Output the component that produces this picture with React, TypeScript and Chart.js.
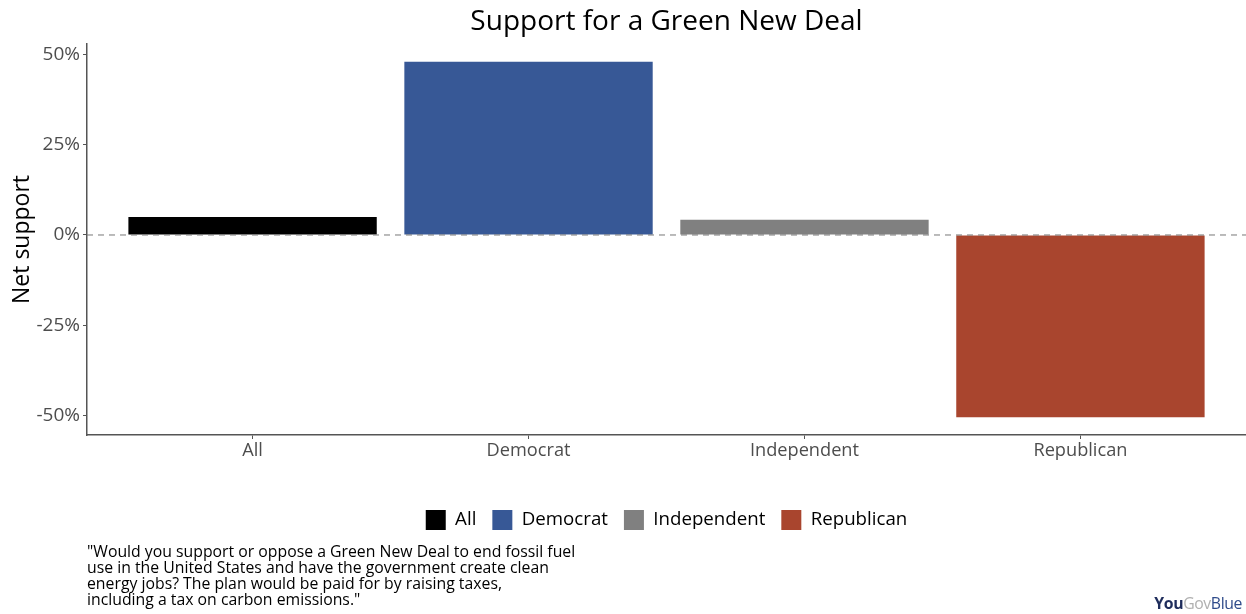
import React, { useEffect, useRef } from "react";
import { Chart, registerables } from "chart.js";

Chart.register(...registerables);

const categories = ["All", "Democrat", "Independent", "Republican"];
const netSupport = [5, 48, 4.2, -50.5];
const barColors = ["#000000", "#375896", "#808080", "#A9452E"];
const yTicks = [-50, -25, 0, 25, 50];
const titleText = "Support for a Green New Deal";
const captionLines = [
  "\"Would you support or oppose a Green New Deal to end fossil fuel",
  "use in the United States and have the government create clean",
  "energy jobs? The plan would be paid for by raising taxes,",
  "including a tax on carbon emissions.\"",
];

const FONT = "'Open Sans', 'Noto Sans', sans-serif";

const zeroLine = {
  id: "zeroLine",
  afterDatasetsDraw(chart: any) {
    const { ctx, chartArea, scales } = chart;
    const y = scales.y.getPixelForValue(0);
    ctx.save();
    ctx.strokeStyle = "#777777";
    ctx.lineWidth = 1;
    ctx.setLineDash([6, 5]);
    ctx.beginPath();
    ctx.moveTo(chartArea.left, y);
    ctx.lineTo(chartArea.right, y);
    ctx.stroke();
    ctx.restore();
  },
};

const centeredTitle = {
  id: "centeredTitle",
  afterDraw(chart: any) {
    const { ctx, chartArea } = chart;
    ctx.save();
    ctx.font = `normal 28px ${FONT}`;
    ctx.fillStyle = "#000000";
    ctx.textAlign = "center";
    ctx.textBaseline = "middle";
    ctx.fillText(titleText, (chartArea.left + chartArea.right) / 2, 22);
    ctx.restore();
  },
};

export default function App() {
  const ref = useRef<HTMLCanvasElement>(null);
  useEffect(() => {
    if (!ref.current) return;
    const chart = new Chart(ref.current, {
      type: "bar",
      data: {
        datasets: [
          {
            label: "Net support",
            data: categories.map((c, i) => ({ x: i, y: netSupport[i] })),
            backgroundColor: barColors,
            borderWidth: 0,
            categoryPercentage: 0.9,
            barPercentage: 1,
          },
        ],
      },
      options: {
        responsive: false,
        animation: false,
        layout: { padding: { left: 0, right: 0, top: 44, bottom: 74 } },
        plugins: {
          tooltip: { enabled: false },
          title: { display: false },
          legend: {
            display: true,
            position: "bottom",
            fullSize: false,
            labels: {
              boxWidth: 20,
              boxHeight: 20,
              padding: 16,
              color: "#1a1a1a",
              font: { family: FONT, size: 18.7 },
              generateLabels: () =>
                categories.map((c, i) => ({
                  text: c,
                  fillStyle: barColors[i],
                  strokeStyle: barColors[i],
                  lineWidth: 0,
                  hidden: false,
                  index: i,
                  datasetIndex: 0,
                })),
            },
          },
        },
        scales: {
          x: {
            type: "linear",
            min: -0.6,
            max: 3.6,
            offset: false,
            afterBuildTicks: (scale: any) => {
              scale.ticks = categories.map((c, i) => ({ value: i }));
            },
            afterFit: (scale: any) => {
              scale.height = 59;
            },
            ticks: {
              autoSkip: false,
              maxRotation: 0,
              padding: 1,
              color: "#4d4d4d",
              font: { family: FONT, size: 18.2 },
              callback: (v: any) => categories[Math.round(Number(v))] ?? "",
            },
            grid: {
              offset: false,
              drawOnChartArea: false,
              drawTicks: true,
              tickLength: 4,
              color: "#555555",
            },
            border: { display: true, color: "#555555", width: 1.5 },
          },
          y: {
            type: "linear",
            min: -55.4,
            max: 52.9,
            afterBuildTicks: (scale: any) => {
              scale.ticks = yTicks.map((v) => ({ value: v }));
            },
            afterFit: (scale: any) => {
              scale.width = 87;
            },
            ticks: {
              padding: 3,
              color: "#4d4d4d",
              font: { family: FONT, size: 19 },
              callback: (v: any) => `${v}%`,
            },
            grid: {
              drawOnChartArea: false,
              drawTicks: true,
              tickLength: 4,
              color: "#555555",
            },
            border: { display: true, color: "#555555", width: 1.5 },
            title: {
              display: true,
              text: "Net support",
              color: "#000000",
              font: { family: FONT, size: 23 },
              padding: { top: 9, bottom: 4 },
            },
          },
        },
      },
      plugins: [zeroLine, centeredTitle],
    } as any);
    return () => chart.destroy();
  }, []);

  return (
    <div
      style={{
        position: "fixed",
        left: 0,
        top: 0,
        width: 1246,
        height: 614,
        background: "#ffffff",
        fontFamily: FONT,
      }}
    >
      <canvas ref={ref} width={1246} height={614} style={{ display: "block" }} />
      <div
        style={{
          position: "absolute",
          left: 87,
          top: 543,
          fontSize: 15.8,
          lineHeight: "16px",
          color: "#000000",
          whiteSpace: "nowrap",
        }}
      >
        {captionLines.map((l, i) => (
          <div key={i}>{l}</div>
        ))}
      </div>
      <div
        style={{
          position: "absolute",
          right: 4,
          top: 595,
          fontSize: 15.8,
          lineHeight: "16px",
          letterSpacing: "-0.4px",
          whiteSpace: "nowrap",
        }}
      >
        <span style={{ color: "#1f2d5c", fontWeight: 700 }}>You</span>
        <span style={{ color: "#b0b0b0" }}>Gov</span>
        <span style={{ color: "#2f4b8a" }}>Blue</span>
      </div>
    </div>
  );
}
